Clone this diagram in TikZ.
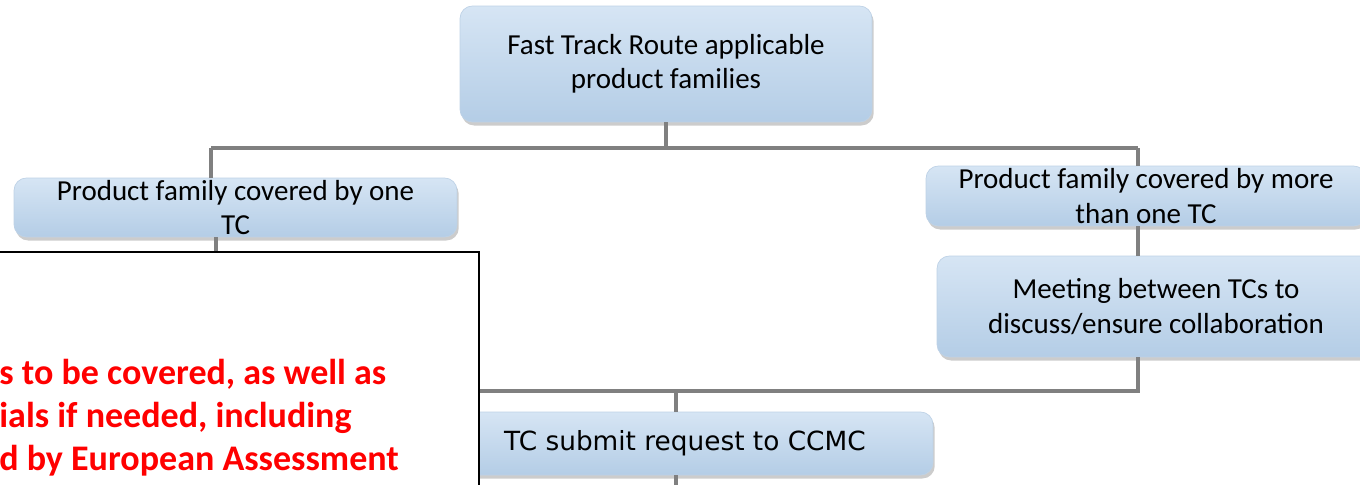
\documentclass[tikz,border=0pt]{standalone}
\usepackage{fontspec}
\setmainfont{Carlito}
\newfontfamily\verdanafont{DejaVu Sans}
\usepackage{tikz}
\usetikzlibrary{shadows,positioning}
\definecolor{ftbluetop}{RGB}{214,229,244}
\definecolor{ftbluebot}{RGB}{180,205,230}
\definecolor{ftedge}{RGB}{190,210,230}
\definecolor{ftgray}{RGB}{128,128,128}
\definecolor{ftred}{RGB}{255,0,0}
\tikzstyle{link} = [line width=2.2pt, color=ftgray]
\tikzstyle{family} = [rectangle, rounded corners=7pt, align=center, draw=ftedge, top color=ftbluetop, bottom color=ftbluebot, drop shadow={shadow xshift=1pt, shadow yshift=-2pt, opacity=0.4}, font=\fontsize{16.5}{19.5}\selectfont, inner sep=0pt]

\begin{document}
\begin{tikzpicture}[x=0.02cm, y=-0.02cm]
\clip (0,0) rectangle (1360,484);
% Root node
\node[family, minimum width=8.24cm, minimum height=2.32cm] (root) at (666,64) {Fast Track Route applicable\\product families};

% Branch nodes
\node[family, minimum width=8.86cm, minimum height=1.18cm] (one) at (235.5,207.5) {Product family covered by one\\TC};
\node[family, minimum width=8.8cm, minimum height=1.2cm] (more) at (1146,196) {Product family covered by more\\than one TC};
\node[family, minimum width=8.76cm, minimum height=2.02cm] (meet) at (1156,306.5) {Meeting between TCs to\\discuss/ensure collaboration};
\node[family, minimum width=9.92cm, minimum height=1.26cm, font=\verdanafont\fontsize{15}{18}\selectfont] (submit) at (685,443.5) {TC submit request to CCMC};

% Upper bus
\coordinate (busL) at (211,148);
\coordinate (busR) at (1138,148);
\draw[link] (busL) -- (busR);
\draw[link] (root.south) -- (root.south |- busL);
\draw[link] (busL) -- (busL |- one.north);
\draw[link] (busR) -- (busR |- more.north);
\draw[link] (more.south -| busR) -- (meet.north -| busR);

% Lower bus
\coordinate (busR2) at (1138,391);
\coordinate (busL2) at (440,391);
\coordinate (join) at (676,391);
\draw[link] (meet.south -| busR2) -- (busR2) -- (busL2);
\draw[link] (join) -- (join |- submit.north);
\draw[link] (join |- submit.south) -- ++(0,20);
\draw[link] (one.south -| 216,0) -- ++(0,30);

% Note box on top
\node[draw=black, line width=1.2pt, fill=white, minimum width=12cm, minimum height=6cm, anchor=north east] (note) at (480,251) {};
\node[anchor=west, align=left, text=ftred, font=\bfseries\fontsize{20.5}{24.5}\selectfont, inner sep=0pt] (noteText) at (-1,418) {s to be covered, as well as\\ials if needed, including\\d by European Assessment};
\end{tikzpicture}
\end{document}
